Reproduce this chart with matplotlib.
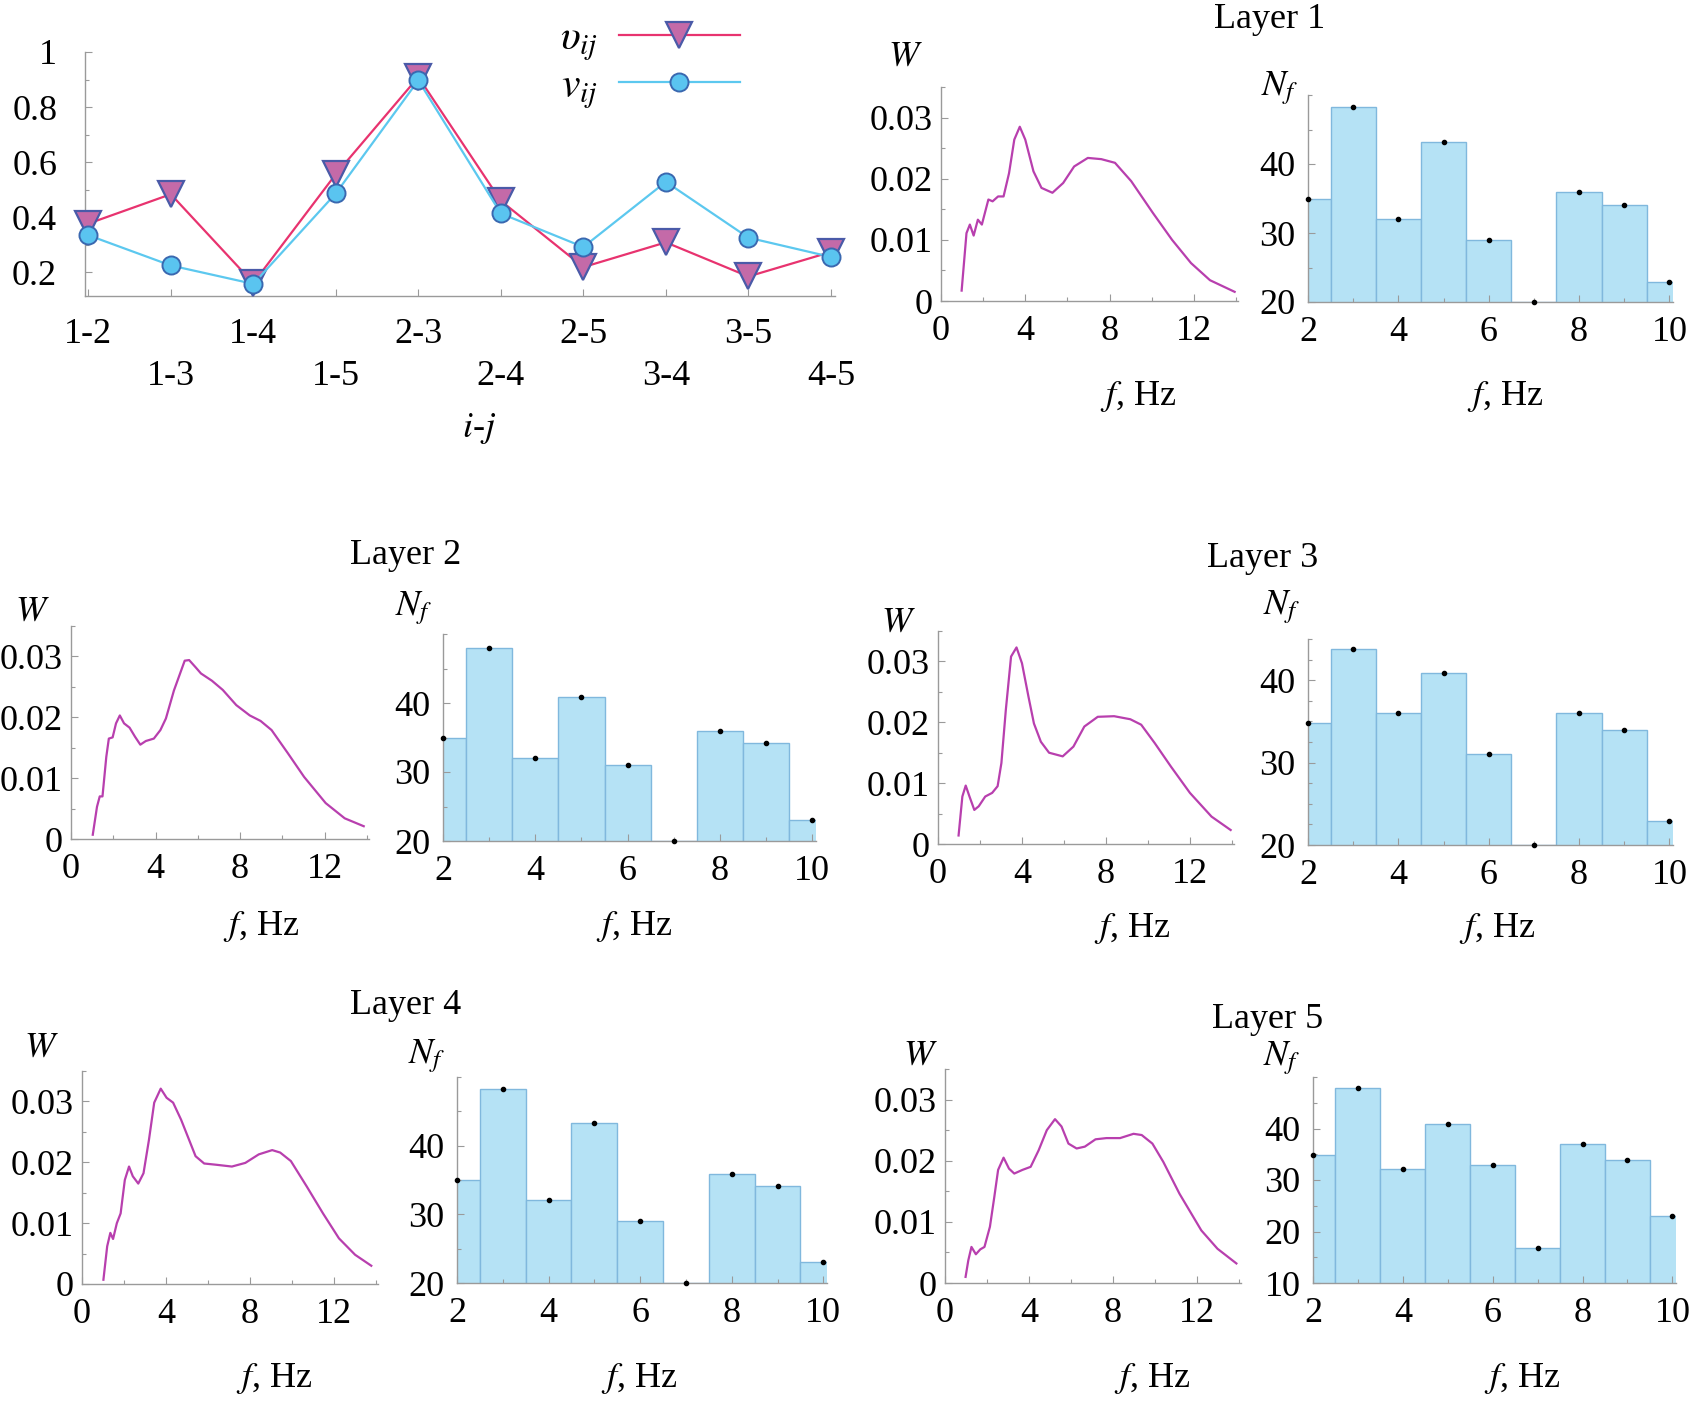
import matplotlib
matplotlib.use("Agg")
import matplotlib.pyplot as plt
from matplotlib.ticker import MultipleLocator, FixedLocator
import numpy as np

plt.rcParams['font.family'] = ['Liberation Serif', 'DejaVu Serif']
plt.rcParams['mathtext.fontset'] = 'stix'

# ---- data: top-left chart
pairs = ['1-2', '1-3', '1-4', '1-5', '2-3', '2-4', '2-5', '3-4', '3-5', '4-5']
upsilon_ij = [0.376, 0.483, 0.16, 0.556, 0.909, 0.459, 0.218, 0.308, 0.184, 0.273]
v_ij = [0.334, 0.224, 0.157, 0.486, 0.897, 0.413, 0.291, 0.528, 0.325, 0.255]

# ---- data: spectra W(f) per layer
w1_f = [0.98, 1.21, 1.37, 1.55, 1.75, 1.94, 2.25, 2.45, 2.71, 2.97, 3.23, 3.48, 3.74, 4.0, 4.39, 4.77,
        5.29, 5.8, 6.32, 6.97, 7.61, 8.26, 9.03, 10.06, 10.97, 11.87, 12.77, 13.94]
w1_w = [0.0017, 0.0111, 0.0125, 0.0107, 0.0133, 0.0125, 0.0166, 0.0163, 0.0171, 0.0171, 0.0209, 0.0264,
        0.0285, 0.0264, 0.0212, 0.0185, 0.0177, 0.0193, 0.0220, 0.0234, 0.0232, 0.0226, 0.0196, 0.0144,
        0.0100, 0.0062, 0.0034, 0.0015]

w2_f = [1.03, 1.23, 1.36, 1.49, 1.67, 1.79, 1.97, 2.13, 2.31, 2.51, 2.77, 3.03, 3.28, 3.54, 3.92, 4.23,
        4.49, 4.87, 5.38, 5.59, 5.9, 6.15, 6.67, 7.18, 7.82, 8.46, 8.97, 9.49, 10.26, 11.03, 12.05, 12.95, 13.85]
w2_w = [0.0007, 0.0053, 0.0070, 0.0070, 0.0135, 0.0165, 0.0167, 0.0190, 0.0203, 0.0190, 0.0183, 0.0168,
        0.0155, 0.0161, 0.0165, 0.0179, 0.0198, 0.0244, 0.0293, 0.0294, 0.0282, 0.0272, 0.0260, 0.0245,
        0.0220, 0.0203, 0.0194, 0.0179, 0.0141, 0.0102, 0.0059, 0.0034, 0.0021]

w3_f = [0.98, 1.16, 1.32, 1.5, 1.73, 1.94, 2.25, 2.58, 2.84, 3.02, 3.23, 3.48, 3.74, 4.0, 4.31, 4.57,
        4.9, 5.29, 5.94, 6.45, 6.97, 7.61, 8.39, 9.16, 9.68, 10.32, 11.1, 12.0, 13.03, 13.94]
w3_w = [0.0014, 0.0078, 0.0096, 0.0078, 0.0056, 0.0062, 0.0078, 0.0084, 0.0095, 0.0133, 0.0220, 0.0308,
        0.0323, 0.0297, 0.0242, 0.0198, 0.0168, 0.0150, 0.0144, 0.0160, 0.0193, 0.0209, 0.0210, 0.0205,
        0.0196, 0.0166, 0.0127, 0.0084, 0.0045, 0.0023]

w4_f = [1.02, 1.2, 1.35, 1.48, 1.66, 1.84, 2.04, 2.24, 2.42, 2.68, 2.93, 3.19, 3.44, 3.75, 4.03, 4.34,
        4.72, 5.1, 5.41, 5.82, 6.38, 7.14, 7.78, 8.42, 9.06, 9.44, 9.95, 10.71, 11.48, 12.24, 13.01, 13.78]
w4_w = [0.0007, 0.0062, 0.0084, 0.0074, 0.0100, 0.0116, 0.0171, 0.0193, 0.0177, 0.0165, 0.0182, 0.0237,
        0.0298, 0.0321, 0.0306, 0.0298, 0.0270, 0.0237, 0.0210, 0.0198, 0.0196, 0.0193, 0.0199, 0.0213,
        0.0220, 0.0216, 0.0202, 0.0160, 0.0116, 0.0075, 0.0048, 0.0030]

w5_f = [0.98, 1.11, 1.26, 1.47, 1.68, 1.88, 2.14, 2.35, 2.53, 2.79, 3.05, 3.3, 3.69, 4.08, 4.46, 4.85,
        5.24, 5.55, 5.88, 6.27, 6.66, 7.17, 7.69, 8.34, 8.98, 9.37, 9.88, 10.4, 11.17, 12.21, 12.98, 13.88]
w5_w = [0.0010, 0.0037, 0.0059, 0.0047, 0.0055, 0.0059, 0.0092, 0.0141, 0.0185, 0.0205, 0.0187, 0.0179,
        0.0185, 0.0190, 0.0217, 0.0250, 0.0268, 0.0256, 0.0228, 0.0220, 0.0223, 0.0235, 0.0237, 0.0237,
        0.0244, 0.0242, 0.0228, 0.0198, 0.0146, 0.0086, 0.0056, 0.0032]

# ---- data: histograms N_f per layer
nf_freq = [2, 3, 4, 5, 6, 7, 8, 9, 10]
nf1 = [35, 48.3, 32, 43.2, 29, 20, 35.9, 34, 22.9]
nf2 = [35, 48, 32, 40.8, 31, 20, 35.9, 34.2, 23.05]
nf3 = [34.8, 43.8, 36, 40.9, 31, 20, 36, 33.9, 22.9]
nf4 = [35, 48.2, 32.1, 43.3, 29.1, 20, 35.9, 34.1, 23]
nf5 = [34.8, 47.9, 32.1, 40.8, 33, 16.8, 37, 33.8, 23]
nf_ylims = [(20, 50), (20, 50), (20, 45), (20, 50), (10, 50)]
nf_minor = [5, 5, 2.5, 5, 5]

W_PX, H_PX = 1707, 1403
fig = plt.figure(figsize=(W_PX / 100, H_PX / 100), dpi=100)
FS = 26
GREY = '#9a9a9a'


def box(l, t, r, b):
    return [l / W_PX, 1 - b / H_PX, (r - l) / W_PX, (b - t) / H_PX]


def ftext(x, y, s, **kw):
    fig.text(x / W_PX, 1 - y / H_PX, s, ha='center', va='center', fontsize=FS, **kw)


def style(ax):
    for s in ['top', 'right']:
        ax.spines[s].set_visible(False)
    for s in ['left', 'bottom']:
        ax.spines[s].set_color(GREY)
        ax.spines[s].set_linewidth(1.0)
    ax.tick_params(which='both', direction='in', color=GREY, width=0.8, labelsize=FS)
    ax.tick_params(which='major', length=5)
    ax.tick_params(which='minor', length=3)


# ---- top-left line chart
ax = fig.add_axes(box(85, 52, 835, 296))
style(ax)
x = np.arange(len(pairs))
ax.plot(x, upsilon_ij, color='#e8336f', lw=1.6, marker='v', ms=19, mfc='#c46aa8', mec='#4a5aa8',
        mew=1.6, label=r'$\upsilon_{ij}$', clip_on=False, zorder=3)
ax.plot(x, v_ij, color='#5cc8ef', lw=1.6, marker='o', ms=13, mfc='#5ac4f0', mec='#3a68b0',
        mew=1.4, label=r'$v_{ij}$', clip_on=False, zorder=3)
ax.set_xlim(-0.04, 9.05)
ax.set_ylim(0.113, 1.0)
ax.xaxis.set_major_locator(FixedLocator(x[::2]))
ax.xaxis.set_minor_locator(FixedLocator(x[1::2]))
ax.set_xticklabels(pairs[::2])
ax.set_xticklabels(pairs[1::2], minor=True)
ax.tick_params(axis='x', which='major', pad=16)
ax.tick_params(axis='x', which='minor', pad=46, labelsize=FS, length=5)
ax.yaxis.set_major_locator(FixedLocator([0.2, 0.4, 0.6, 0.8, 1.0]))
ax.set_yticklabels(['0.2', '0.4', '0.6', '0.8', '1'])
ax.yaxis.set_minor_locator(FixedLocator([0.3, 0.5, 0.7, 0.9]))
ax.tick_params(axis='y', which='major', pad=20)
ax.legend(loc='upper left', bbox_to_anchor=(560 / W_PX, 1 - 20 / H_PX), bbox_transform=fig.transFigure,
          markerfirst=False, frameon=False, fontsize=FS + 4, handlelength=2.9, handletextpad=0.5,
          labelspacing=0.1, borderpad=0, borderaxespad=0)
ftext(479, 428, r'$i$-$j$')

# ---- layer panels
layers = [
    dict(title='Layer 1', wf=w1_f, ww=w1_w, nf=nf1,
         wbox=(941, 87, 1238, 301), nbox=(1308, 95, 1673, 302),
         tpos=(1270, 20), wlab=(905, 57), nlab=(1280, 88), fl=((1138, 397), (1505, 397))),
    dict(title='Layer 2', wf=w2_f, ww=w2_w, nf=nf2,
         wbox=(71, 626, 369, 839), nbox=(443, 634, 816, 841),
         tpos=(406, 555), wlab=(32, 612), nlab=(414, 608), fl=((261, 926), (634, 926))),
    dict(title='Layer 3', wf=w3_f, ww=w3_w, nf=nf3,
         wbox=(938, 631, 1234, 844), nbox=(1308, 639, 1673, 845),
         tpos=(1263, 558), wlab=(898, 623), nlab=(1282, 607), fl=((1132, 928), (1497, 928))),
    dict(title='Layer 4', wf=w4_f, ww=w4_w, nf=nf4,
         wbox=(82, 1071, 378, 1284), nbox=(457, 1077, 827, 1283),
         tpos=(406, 1005), wlab=(41, 1048), nlab=(427, 1056), fl=((274, 1378), (639, 1378))),
    dict(title='Layer 5', wf=w5_f, ww=w5_w, nf=nf5,
         wbox=(945, 1069, 1241, 1283), nbox=(1313, 1077, 1676, 1283),
         tpos=(1268, 1019), wlab=(920, 1056), nlab=(1282, 1058), fl=((1152, 1378), (1522, 1378))),
]

for i, L in enumerate(layers):
    # spectrum
    aw = fig.add_axes(box(*L['wbox']))
    style(aw)
    aw.plot(L['wf'], L['ww'], color='#b83fae', lw=1.6)
    aw.set_xlim(0, 14.1)
    aw.set_ylim(0, 0.035)
    aw.xaxis.set_major_locator(FixedLocator([0, 4, 8, 12]))
    aw.xaxis.set_minor_locator(MultipleLocator(2))
    aw.yaxis.set_major_locator(FixedLocator([0, 0.01, 0.02, 0.03]))
    aw.set_yticklabels(['0', '0.01', '0.02', '0.03'])
    aw.yaxis.set_minor_locator(MultipleLocator(0.005))
    aw.tick_params(axis='y', pad=6)
    aw.tick_params(axis='x', pad=10)

    # histogram
    an = fig.add_axes(box(*L['nbox']))
    style(an)
    an.bar(nf_freq, L['nf'], width=1.0, color='#b5e2f5', edgecolor='#80b8dd', lw=1.0)
    an.plot(nf_freq, L['nf'], 'o', color='k', ms=3, clip_on=False, zorder=4)
    lo, hi = nf_ylims[i]
    an.set_xlim(2, 10.08)
    an.set_ylim(lo, hi)
    an.xaxis.set_major_locator(FixedLocator([2, 4, 6, 8, 10]))
    an.xaxis.set_minor_locator(MultipleLocator(1))
    an.yaxis.set_major_locator(FixedLocator(list(range(lo, 41, 10))))
    an.yaxis.set_minor_locator(MultipleLocator(nf_minor[i]))
    an.tick_params(axis='y', pad=9)
    an.tick_params(axis='x', pad=10)

    ftext(*L['tpos'], L['title'])
    ftext(*L['wlab'], r'$W$')
    ftext(*L['nlab'], r'$N_f$')
    ftext(*L['fl'][0], r'$f$, Hz')
    ftext(*L['fl'][1], r'$f$, Hz')

fig.savefig('out.png', dpi=100)
